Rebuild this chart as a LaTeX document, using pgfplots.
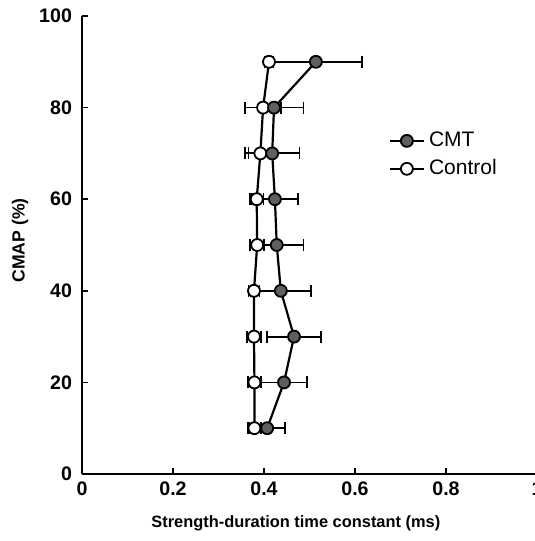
\documentclass[border=0pt]{standalone}
\usepackage{pgfplots}
\pgfplotsset{compat=1.18}
\usepackage{fontspec}
\setmainfont{Liberation Sans}
\usetikzlibrary{calc}

\definecolor{cmtgray}{RGB}{95,95,95}

\begin{document}
\begin{tikzpicture}
\begin{axis}[
    width=227.5pt, height=229pt, scale only axis,
    xmin=0, xmax=1, ymin=0, ymax=100,
    axis lines=left,
    axis line style={-, line width=1pt},
    xtick={0,0.2,0.4,0.6,0.8,1},
    ytick={0,20,40,60,80,100},
    xticklabels={0,0.2,0.4,0.6,0.8,1},
    tick align=inside,
    major tick length=3pt,
    tick style={line width=0.8pt, black},
    ticklabel style={font=\bfseries\fontsize{9.8}{11}\selectfont},
    yticklabel style={xshift=-1.5pt},
    xticklabel style={yshift=-0.5pt},
    /pgf/number format/assume math mode=true,
    every axis x label/.style={at={(axis description cs:0.47,0)}, yshift=-24.5pt, anchor=center},
    every axis y label/.style={at={(axis description cs:0,0.51)}, xshift=-31pt, rotate=90, anchor=center},
    xlabel={\bfseries\fontsize{8.2}{10}\selectfont Strength-duration time constant (ms)},
    ylabel={\bfseries\fontsize{8.8}{10}\selectfont CMAP (\%)},
    legend style={draw=none, fill=none, at={(axis cs:0.66,76.5)}, anchor=north west,
        font=\fontsize{10.5}{12}\selectfont, row sep=1pt},
    legend cell align=left,
    reverse legend,
    error bars/error bar style={line width=0.9pt, black},
    error bars/error mark options={rotate=90, mark size=3pt, line width=0.9pt, black},
]
\addplot[black, line width=1.1pt, mark=*, mark size=3pt,
    mark options={fill=white, draw=black, line width=0.9pt},
    error bars/.cd, x dir=both, x explicit]
coordinates {
    (0.379,10) +- (0.015,0)
    (0.379,20) +- (0.015,0)
    (0.378,30) +- (0.015,0)
    (0.378,40) +- (0.012,0)
    (0.385,50) +- (0.015,0)
    (0.384,60) +- (0.015,0)
    (0.392,70) +- (0.026,0)
    (0.398,80) +- (0.040,0)
    (0.411,90) +- (0.010,0)
};
\addlegendentry{Control}
\addplot[black, line width=1.1pt, mark=*, mark size=3pt,
    mark options={fill=cmtgray, draw=black, line width=0.9pt},
    error bars/.cd, x dir=both, x explicit]
coordinates {
    (0.407,10) +- (0.040,0)
    (0.444,20) +- (0.051,0)
    (0.466,30) +- (0.060,0)
    (0.437,40) +- (0.066,0)
    (0.428,50) +- (0.059,0)
    (0.424,60) +- (0.051,0)
    (0.418,70) +- (0.060,0)
    (0.422,80) +- (0.065,0)
    (0.514,90) +- (0.102,0)
};
\addlegendentry{CMT}
\coordinate (o) at (axis cs:0,0);
\end{axis}
\pgfresetboundingbox
\path[use as bounding box] ($(o)+(-41pt,-33.5pt)$) rectangle ($(o)+(226.5pt,237pt)$);
\end{tikzpicture}
\end{document}
